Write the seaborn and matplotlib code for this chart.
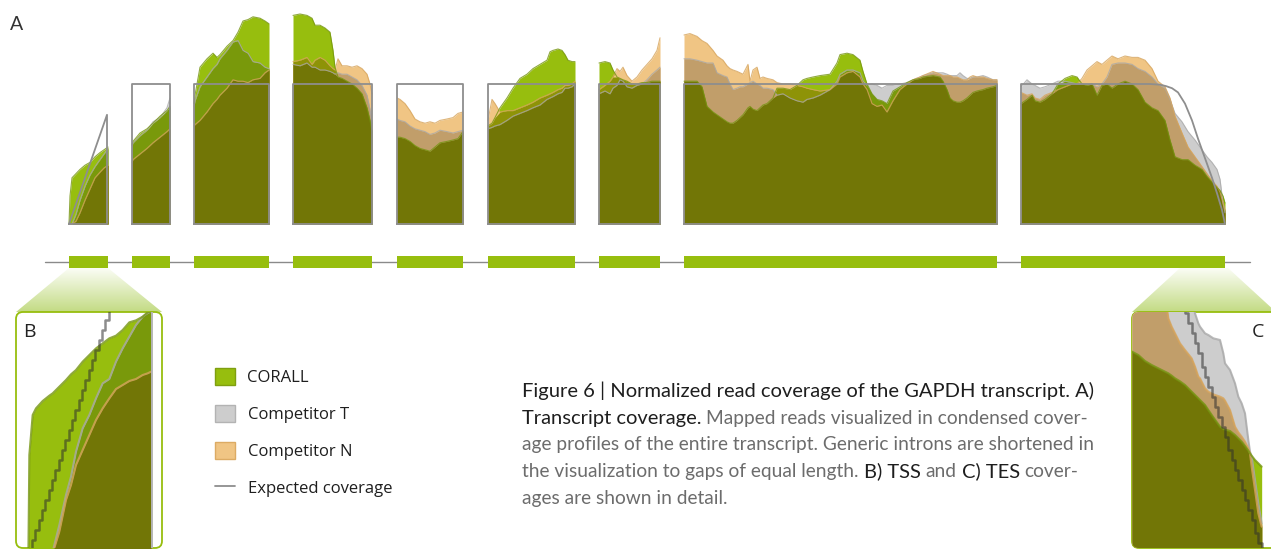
import numpy as np
import seaborn as sns
import matplotlib.pyplot as plt
from matplotlib.patches import Patch, Polygon, FancyBboxPatch
from matplotlib.lines import Line2D
from matplotlib.colors import to_rgb, LinearSegmentedColormap

# condensed transcript: exon boundaries (introns shortened to equal gaps)
exon_start = [69, 132, 194, 293, 397, 488, 599, 684, 1021]
exon_end = [108, 170, 269, 372, 463, 575, 660, 997, 1225]
exp_level = 1.0

# normalized coverage per exon: CORALL, Competitor T, Competitor N
ex1_pos = [69, 70, 72, 76, 80, 85, 90, 95, 100, 104, 108]
ex1_corall = [0.00, 0.20, 0.33, 0.36, 0.39, 0.42, 0.44, 0.48, 0.51, 0.53, 0.55]
ex1_compt = [0.00, 0.00, 0.00, 0.07, 0.17, 0.27, 0.35, 0.41, 0.46, 0.50, 0.54]
ex1_compn = [0.00, 0.00, 0.00, 0.02, 0.08, 0.17, 0.25, 0.33, 0.37, 0.40, 0.42]

ex2_pos = [132, 133, 140, 147, 153, 160, 167, 170]
ex2_corall = [0.57, 0.59, 0.65, 0.68, 0.72, 0.77, 0.81, 0.84]
ex2_compt = [0.56, 0.58, 0.63, 0.67, 0.73, 0.76, 0.83, 0.90]
ex2_compn = [0.44, 0.46, 0.50, 0.54, 0.58, 0.62, 0.66, 0.68]

ex3_pos = [194, 195, 200, 207, 213, 217, 220, 227, 233, 238, 243, 248, 253, 260, 265, 269]
ex3_corall = [0.86, 0.92, 1.12, 1.18, 1.22, 1.19, 1.21, 1.27, 1.31, 1.37, 1.45, 1.46, 1.48, 1.47, 1.45, 1.43]
ex3_compt = [0.84, 0.88, 0.98, 1.05, 1.11, 1.14, 1.18, 1.24, 1.30, 1.31, 1.24, 1.22, 1.16, 1.15, 1.12, 1.11]
ex3_compn = [0.70, 0.71, 0.74, 0.80, 0.86, 0.89, 0.92, 0.97, 1.03, 1.02, 1.02, 1.01, 1.03, 1.04, 1.08, 1.10]

ex4_pos = [293, 300, 307, 312, 315, 320, 325, 330, 333, 335, 338, 342, 347, 352, 357, 362, 367, 370, 372]
ex4_corall = [1.49, 1.50, 1.49, 1.47, 1.42, 1.42, 1.40, 1.37, 1.24, 1.12, 1.05, 1.04, 1.02, 1.00, 0.97, 0.93, 0.83, 0.74, 0.66]
ex4_compt = [1.14, 1.13, 1.15, 1.12, 1.12, 1.10, 1.10, 1.09, 1.08, 1.07, 1.08, 1.07, 1.07, 1.05, 1.03, 0.99, 0.92, 0.82, 0.72]
ex4_compn = [1.16, 1.17, 1.19, 1.14, 1.17, 1.19, 1.17, 1.13, 1.11, 1.10, 1.18, 1.13, 1.13, 1.12, 1.13, 1.11, 1.07, 1.00, 0.93]

ex5_pos = [397, 400, 405, 410, 415, 420, 425, 430, 435, 440, 447, 453, 458, 463]
ex5_corall = [0.62, 0.62, 0.61, 0.59, 0.56, 0.54, 0.53, 0.52, 0.55, 0.58, 0.59, 0.60, 0.61, 0.66]
ex5_compt = [0.75, 0.74, 0.73, 0.70, 0.68, 0.67, 0.66, 0.64, 0.65, 0.67, 0.66, 0.65, 0.66, 0.67]
ex5_compn = [0.90, 0.89, 0.86, 0.81, 0.75, 0.73, 0.72, 0.73, 0.72, 0.74, 0.75, 0.76, 0.79, 0.80]

ex6_pos = [488, 492, 495, 500, 507, 513, 520, 527, 533, 540, 547, 550, 553, 558, 562, 565, 568, 572, 575]
ex6_corall = [0.70, 0.72, 0.76, 0.83, 0.90, 0.97, 1.04, 1.07, 1.11, 1.14, 1.17, 1.23, 1.24, 1.25, 1.24, 1.21, 1.17, 1.16, 1.16]
ex6_compt = [0.68, 0.69, 0.70, 0.71, 0.74, 0.77, 0.79, 0.81, 0.83, 0.85, 0.89, 0.90, 0.91, 0.93, 0.94, 0.97, 0.97, 0.98, 1.00]
ex6_compn = [0.74, 0.89, 0.86, 0.80, 0.81, 0.81, 0.83, 0.85, 0.87, 0.90, 0.92, 0.93, 0.94, 0.96, 0.97, 0.99, 0.99, 1.00, 1.02]

ex7_pos = [599, 605, 610, 613, 617, 620, 623, 627, 632, 637, 642, 647, 652, 657, 660]
ex7_corall = [1.15, 1.16, 1.15, 1.10, 1.05, 1.04, 1.03, 1.02, 1.00, 1.00, 1.01, 1.01, 1.02, 1.02, 1.02]
ex7_compt = [0.93, 0.95, 0.93, 0.97, 0.99, 1.03, 1.02, 0.98, 0.97, 0.99, 1.00, 1.03, 1.07, 1.10, 1.12]
ex7_compn = [0.96, 0.99, 1.02, 1.05, 1.11, 1.09, 1.12, 1.06, 1.02, 1.05, 1.10, 1.14, 1.18, 1.24, 1.33]

ex8_pos = [684, 690, 697, 702, 707, 713, 717, 723, 727, 730, 733, 737, 740, 743, 748,
           750, 753, 757, 760, 763, 767, 773, 777, 783, 790, 797, 803, 807, 813, 820,
           830, 837, 840, 847, 853, 860, 863, 867, 872, 877, 882, 887, 893, 900, 907,
           913, 920, 923, 933, 940, 943, 947, 950, 953, 957, 960, 963, 967, 970, 973,
           977, 983, 987, 993, 997]
ex8_corall = [1.02, 1.02, 1.02, 0.98, 0.84, 0.80, 0.78, 0.75, 0.73, 0.72, 0.72, 0.74, 0.76, 0.78, 0.83,
              0.84, 0.82, 0.81, 0.83, 0.85, 0.86, 0.90, 0.97, 0.97, 0.96, 0.99, 1.03, 1.04, 1.05, 1.06,
              1.07, 1.15, 1.21, 1.22, 1.21, 1.17, 1.09, 1.00, 0.93, 0.89, 0.88, 0.86, 0.95, 0.98, 1.01,
              1.03, 1.04, 1.05, 1.06, 1.05, 1.02, 0.96, 0.90, 0.88, 0.87, 0.87, 0.88, 0.90, 0.92, 0.94,
              0.95, 0.96, 0.97, 0.98, 0.99]
ex8_compt = [1.18, 1.18, 1.17, 1.16, 1.15, 1.15, 1.08, 1.06, 1.05, 1.00, 0.96, 0.97, 0.98, 0.98, 1.00,
             1.01, 1.02, 1.00, 0.99, 0.97, 0.97, 0.96, 0.92, 0.93, 0.90, 0.88, 0.87, 0.89, 0.90, 0.92,
             0.96, 1.02, 1.07, 1.10, 1.10, 1.08, 1.02, 0.99, 1.00, 0.99, 0.97, 0.99, 0.99, 1.00, 1.01,
             1.03, 1.05, 1.06, 1.08, 1.08, 1.08, 1.07, 1.06, 1.06, 1.06, 1.08, 1.06, 1.04, 1.04, 1.05,
             1.05, 1.06, 1.05, 1.03, 1.03]
ex8_compn = [1.35, 1.36, 1.34, 1.31, 1.29, 1.24, 1.20, 1.17, 1.13, 1.11, 1.10, 1.09, 1.08, 1.07, 1.14,
             1.02, 1.10, 1.12, 1.04, 1.05, 1.04, 1.03, 1.01, 1.00, 1.00, 0.99, 0.98, 0.97, 0.96, 0.95,
             0.96, 1.00, 1.05, 1.08, 1.09, 1.05, 1.00, 0.96, 0.86, 0.84, 0.85, 0.80, 0.88, 0.96, 1.00,
             1.03, 1.05, 1.06, 1.09, 1.07, 1.06, 1.06, 1.06, 1.05, 1.05, 1.04, 1.03, 1.03, 1.05, 1.06,
             1.05, 1.05, 1.04, 1.03, 1.03]

ex9_pos = [1021, 1027, 1032, 1035, 1040, 1045, 1052, 1058, 1065, 1072, 1077, 1082, 1087,
           1092, 1097, 1102, 1107, 1112, 1118, 1125, 1132, 1138, 1145, 1152, 1158, 1165,
           1170, 1175, 1182, 1188, 1195, 1202, 1207, 1212, 1217, 1220, 1223, 1225]
ex9_corall = [0.86, 0.89, 0.92, 0.88, 0.87, 0.89, 0.93, 1.00, 1.04, 1.06, 1.05, 1.00, 0.99,
              1.00, 0.92, 0.99, 1.00, 0.97, 1.00, 1.02, 1.00, 0.96, 0.87, 0.83, 0.81, 0.74,
              0.60, 0.48, 0.46, 0.46, 0.42, 0.39, 0.34, 0.30, 0.26, 0.24, 0.20, 0.15]
ex9_compt = [0.98, 1.03, 1.00, 0.99, 0.97, 0.98, 1.00, 1.02, 1.02, 1.01, 1.00, 1.00, 1.00,
             1.00, 0.98, 1.00, 1.05, 1.14, 1.15, 1.15, 1.14, 1.11, 1.09, 1.05, 1.00, 0.97,
             0.89, 0.79, 0.73, 0.66, 0.60, 0.53, 0.48, 0.44, 0.39, 0.32, 0.15, 0.08]
ex9_compn = [0.94, 0.92, 0.93, 0.90, 0.89, 0.92, 0.94, 0.96, 0.98, 1.00, 1.00, 1.04, 1.10,
             1.13, 1.16, 1.14, 1.17, 1.20, 1.18, 1.20, 1.19, 1.19, 1.17, 1.11, 1.02, 0.98,
             0.90, 0.77, 0.65, 0.55, 0.48, 0.41, 0.36, 0.31, 0.27, 0.23, 0.15, 0.10]

# expected coverage where it is not flat
exp1_pos = [69, 107]
exp1_cov = [0.0, 0.78]
exp9_pos = [1021, 1150, 1160, 1166, 1172, 1178, 1185, 1192, 1198, 1205, 1212, 1217, 1222, 1225]
exp9_cov = [1.0, 1.0, 0.995, 0.985, 0.97, 0.94, 0.86, 0.74, 0.61, 0.47, 0.33, 0.22, 0.10, 0.0]

# B) TSS detail (zoomed position / coverage units)
tss_pos = [3.7, 4.0, 5.0, 6.0, 8.0, 10.0, 11.0, 13.0, 15.0, 16.5, 18.0, 20.0,
           22.0, 24.0, 26.0, 28.0, 30.0, 32.0, 34.0, 36.0, 38.0, 39.5, 40.5]
tss_corall = [0.0, 0.315, 0.435, 0.455, 0.477, 0.493, 0.500, 0.520, 0.540, 0.557, 0.570, 0.595,
              0.615, 0.635, 0.650, 0.665, 0.673, 0.690, 0.713, 0.719, 0.730, 0.743, 0.745]
tss_compt = [0.0, 0.0, 0.0, 0.0, 0.0, 0.0, 0.025, 0.105, 0.195, 0.250, 0.325, 0.395,
             0.435, 0.485, 0.530, 0.543, 0.595, 0.635, 0.670, 0.705, 0.730, 0.741, 0.745]
tss_compn = [0.0, 0.0, 0.0, 0.0, 0.0, 0.0, 0.020, 0.085, 0.180, 0.225, 0.285, 0.330,
             0.375, 0.420, 0.455, 0.485, 0.513, 0.525, 0.537, 0.543, 0.555, 0.560, 0.565]
tss_exp_pos = [3.8, 4.8, 5.8, 6.8, 7.8, 8.8, 9.8, 10.8, 11.8, 12.8, 13.8, 14.8, 15.8,
               16.8, 17.8, 18.8, 19.8, 20.8, 21.8, 22.8, 23.8, 24.8, 25.8, 26.8, 27.8]
tss_exp_cov = [0.03, 0.06, 0.09, 0.12, 0.15, 0.18, 0.21, 0.24, 0.27, 0.30, 0.33, 0.36, 0.39,
               0.42, 0.45, 0.48, 0.51, 0.54, 0.57, 0.60, 0.63, 0.66, 0.69, 0.72, 0.75]
tss_end = 40.7

# C) TES detail
tes_pos = [2.1, 4, 6, 8, 10, 12, 13, 14, 15, 16.5, 18, 20, 21, 22, 22.5, 24, 25,
           26.5, 28.5, 29.5, 30, 31.5, 33, 34, 35, 36, 36.5, 37, 37.5, 38, 39, 40, 41]
tes_corall = [0.625, 0.615, 0.597, 0.585, 0.575, 0.565, 0.560, 0.553, 0.545, 0.536, 0.525, 0.505,
              0.495, 0.485, 0.480, 0.465, 0.450, 0.428, 0.400, 0.393, 0.391, 0.387, 0.375, 0.365,
              0.355, 0.342, 0.335, 0.328, 0.320, 0.313, 0.300, 0.290, 0.280]
tes_compt = [0.80, 0.80, 0.80, 0.80, 0.80, 0.80, 0.80, 0.80, 0.80, 0.80, 0.80, 0.80,
             0.74, 0.71, 0.70, 0.68, 0.675, 0.665, 0.66, 0.62, 0.59, 0.57, 0.53, 0.49,
             0.47, 0.44, 0.40, 0.36, 0.325, 0.31, 0.24, 0.17, 0.11]
tes_compn = [0.80, 0.80, 0.80, 0.80, 0.80, 0.80, 0.725, 0.70, 0.68, 0.65, 0.63, 0.605,
             0.58, 0.55, 0.545, 0.515, 0.505, 0.497, 0.49, 0.485, 0.478, 0.45, 0.40, 0.383,
             0.37, 0.355, 0.345, 0.335, 0.32, 0.28, 0.21, 0.14, 0.10]
tes_exp_pos = [17, 18, 19, 20, 21, 22, 23, 24, 25, 26, 27, 28, 29, 30, 31, 32, 33,
               34, 35, 36, 37, 38, 39, 40, 41]
tes_exp_cov = [0.77, 0.74, 0.71, 0.68, 0.65, 0.62, 0.58, 0.55, 0.52, 0.49, 0.46, 0.43, 0.40,
               0.37, 0.33, 0.30, 0.27, 0.24, 0.21, 0.18, 0.15, 0.12, 0.08, 0.05, 0.02]

legend_labels = ["CORALL", "Competitor T", "Competitor N", "Expected coverage"]
caption = [
    [("Figure 6 | Normalized read coverage of the GAPDH transcript. A)", True)],
    [("Transcript coverage.", True), ("Mapped reads visualized in condensed cover-", False)],
    [("age profiles of the entire transcript. Generic introns are shortened in", False)],
    [("the visualization to gaps of equal length.", False), ("B) TSS", True), ("and", False),
     ("C) TES", True), ("cover-", False)],
    [("ages are shown in detail.", False)],
]

sns.set_theme(style="white")
plt.rcParams["font.family"] = ["Open Sans", "DejaVu Sans"]

GREEN = "#97be0e"
GRAY = "#cdcdcd"
ORANGE = "#f0c584"
EDGE = {"c": "#759510", "t": "#a8a8a8", "n": "#d6a45c"}
W, H = 1271, 549


def mult(*cols):
    out = np.ones(3)
    for c in cols:
        out = out * np.array(to_rgb(c))
    return tuple(out)


def coverage(ax, pos, c, t, n, lw=0.8, clip=None):
    # fake "multiply" blending: paint every overlap with the product colour
    pos = np.asarray(pos, float)
    c, t, n = (np.asarray(v, float) for v in (c, t, n))
    layers = [
        (c, GREEN), (t, GRAY), (n, ORANGE),
        (np.minimum(c, t), mult(GREEN, GRAY)),
        (np.minimum(c, n), mult(GREEN, ORANGE)),
        (np.minimum(t, n), mult(GRAY, ORANGE)),
        (np.minimum(np.minimum(c, t), n), mult(GREEN, GRAY, ORANGE)),
    ]
    arts = []
    for y, col in layers:
        arts.append(ax.fill_between(pos, 0, y, color=col, lw=0, zorder=2))
    for y, key in ((t, "t"), (n, "n"), (c, "c")):
        arts += ax.plot(pos, y, color=EDGE[key], lw=lw, alpha=0.8, zorder=3)
    if clip is not None:
        for a in arts:
            a.set_clip_path(clip)
    return arts


def cov_y(py):
    # main axes: coverage 0 at the baseline, 1.0 at the expected level
    return (224 - py) / 140.0


fig = plt.figure(figsize=(W / 100, H / 100), dpi=100)
ax = fig.add_axes([0, 0, 1, 1])
ax.axis("off")

exons = [
    (ex1_pos, ex1_corall, ex1_compt, ex1_compn),
    (ex2_pos, ex2_corall, ex2_compt, ex2_compn),
    (ex3_pos, ex3_corall, ex3_compt, ex3_compn),
    (ex4_pos, ex4_corall, ex4_compt, ex4_compn),
    (ex5_pos, ex5_corall, ex5_compt, ex5_compn),
    (ex6_pos, ex6_corall, ex6_compt, ex6_compn),
    (ex7_pos, ex7_corall, ex7_compt, ex7_compn),
    (ex8_pos, ex8_corall, ex8_compt, ex8_compn),
    (ex9_pos, ex9_corall, ex9_compt, ex9_compn),
]
for pos, c, t, n in exons:
    coverage(ax, pos, c, t, n)

# expected coverage outlines
exp_lines = [(exp1_pos, exp1_cov)]
for s, e in zip(exon_start[1:8], exon_end[1:8]):
    exp_lines.append(([s, e], [exp_level, exp_level]))
exp_lines.append((exp9_pos, exp9_cov))
for (pos, cov), s in zip(exp_lines, exon_start):
    e = pos[-1]
    xs = [s] + list(pos) + [e, s]
    ys = [0] + list(cov) + [0, 0]
    sns.lineplot(x=xs, y=ys, sort=False, estimator=None, color="#8e8e8e", lw=1.3, ax=ax, zorder=4)

# gene model
ax.plot([45, 1250], [cov_y(262), cov_y(262)], color="#8a8a8a", lw=1, zorder=2)
ax.bar(exon_start, cov_y(255.5) - cov_y(268), width=np.subtract(exon_end, exon_start),
       bottom=cov_y(268), align="edge", color=GREEN, lw=0, zorder=3)


def wedge(corners):
    poly = Polygon(corners, closed=True, fc="none", ec="none")
    ax.add_patch(poly)
    xs = [p[0] for p in corners]
    ys = [p[1] for p in corners]
    cmap = LinearSegmentedColormap.from_list("wedge", ["#c3db84", "#fbfdf5"])
    grad = np.linspace(0, 1, 100).reshape(-1, 1)
    im = ax.imshow(grad, extent=(min(xs), max(xs), min(ys), max(ys)), origin="lower",
                   cmap=cmap, aspect="auto", zorder=1)
    im.set_clip_path(poly)


wedge([(69, cov_y(268)), (108, cov_y(268)), (162, cov_y(312)), (16, cov_y(312))])
wedge([(1180, cov_y(268)), (1228, cov_y(268)), (1276, cov_y(312)), (1132, cov_y(312))])

frame_b = FancyBboxPatch((16, cov_y(548)), 146, cov_y(312) - cov_y(548),
                         boxstyle="round,pad=0,rounding_size=7", mutation_aspect=1 / 140,
                         fc="none", ec=GREEN, lw=1.3, zorder=5)
frame_c = FancyBboxPatch((1132, cov_y(548)), 170, cov_y(312) - cov_y(548),
                         boxstyle="round,pad=0,rounding_size=7", mutation_aspect=1 / 140,
                         fc="none", ec=GREEN, lw=1.3, zorder=5)
ax.add_patch(frame_b)
ax.add_patch(frame_c)
ax.set_xlim(0, W)
ax.set_ylim(cov_y(H), cov_y(0))

# B inset
axb = fig.add_axes([16 / W, 1 - 548 / H, 147 / W, 236 / H])
axb.axis("off")
axb.patch.set_alpha(0)
coverage(axb, tss_pos, tss_corall, tss_compt, tss_compn, lw=1.5)
axb.axvline(tss_end, color="#b5b5b5", lw=1.4, zorder=4)
axb.step(tss_exp_pos, tss_exp_cov, where="post", color="#2e2e2e", alpha=0.55, lw=1.8, zorder=4)
axb.set_xlim(0, 44.1)
axb.set_ylim(0.036, 0.744)

# C inset
axc = fig.add_axes([1132 / W, 1 - 548 / H, (W - 1132) / W, 236 / H])
axc.axis("off")
axc.patch.set_alpha(0)
coverage(axc, tes_pos, tes_corall, tes_compt, tes_compn, lw=1.5, clip=frame_c)
st = axc.step(tes_exp_pos, tes_exp_cov, where="post", color="#2e2e2e", alpha=0.55, lw=1.8, zorder=4)
st[0].set_clip_path(frame_c)
axc.set_xlim(2.1, 43.8)
axc.set_ylim(0.036, 0.744)

# panel letters
fig.text(10 / W, 1 - 24 / H, "A", fontsize=14, color="#333333", va="center",
         family=["Lato", "DejaVu Sans"])
fig.text(23 / W, 1 - 332 / H, "B", fontsize=14, color="#222222", va="center")
fig.text(1252 / W, 1 - 332 / H, "C", fontsize=14, color="#222222", va="center")

# legend
handles = [
    Patch(facecolor=GREEN, edgecolor="#7f9f10", lw=1),
    Patch(facecolor=GRAY, edgecolor="#b3b3b3", lw=1),
    Patch(facecolor=ORANGE, edgecolor="#dcab64", lw=1),
    Line2D([0], [0], color="#8e8e8e", lw=1.3),
]
ax.legend(handles, legend_labels, loc="upper left", bbox_to_anchor=(215 / W, 1 - 368 / H),
          bbox_transform=fig.transFigure, frameon=False, fontsize=12, handlelength=1.2,
          handleheight=1.2, handletextpad=0.75, labelspacing=1.12, borderpad=0,
          borderaxespad=0, labelcolor="#1e1e1e")

# caption, built piece by piece so the colour can change inside a line
renderer = fig.canvas.get_renderer()
cap_kw = dict(family=["Lato", "DejaVu Sans"], va="baseline", ha="left", fontweight="normal")


def style(dark):
    if dark:
        return dict(color="#1e1e1e", fontsize=14.5)
    return dict(color="#6c6c6c", fontsize=13.8)


def text_width(s, dark):
    t = fig.text(0, 0, s, **cap_kw, **style(dark))
    w = t.get_window_extent(renderer).width
    t.remove()
    return w


space = {d: text_width("n n", d) - text_width("nn", d) for d in (True, False)}
for i, parts in enumerate(caption):
    x = 522.0
    py = 397 + i * 26.7
    for j, (s, dark) in enumerate(parts):
        if j > 0:
            x += space[dark]
        t = fig.text(x / W, 1 - py / H, s, **cap_kw, **style(dark))
        x = t.get_window_extent(renderer).x1

fig.savefig("out.png", dpi=100)
